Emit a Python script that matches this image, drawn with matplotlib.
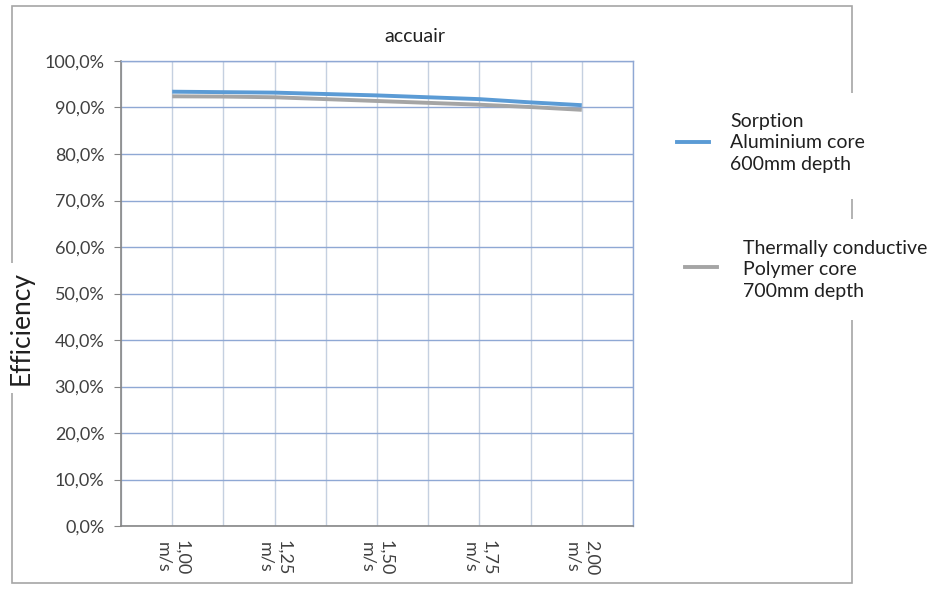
import numpy as np
import matplotlib
matplotlib.use("Agg")
import matplotlib.pyplot as plt
from matplotlib.ticker import FuncFormatter, MultipleLocator
from matplotlib.patches import Rectangle
from matplotlib.lines import Line2D

plt.rcParams['font.family'] = ['Lato', 'DejaVu Sans']

# dados
velocidades = [1.00, 1.125, 1.25, 1.375, 1.50, 1.625, 1.75, 1.875, 2.00]
rotulos_x = [1.00, 1.25, 1.50, 1.75, 2.00]
sorption = [93.4, 93.3, 93.2, 92.9, 92.6, 92.2, 91.8, 91.1, 90.5]
polymer = [92.4, 92.35, 92.2, 91.8, 91.4, 91.0, 90.6, 90.1, 89.5]

nome_sorption = "Sorption\nAluminium core\n600mm depth"
nome_polymer = "Thermally conductive\nPolymer core\n700mm depth"

azul = "#5B9BD5"
cinza = "#A5A5A5"

fig = plt.figure(figsize=(9.31, 6.04), dpi=100)
ax = fig.add_axes([121/931, 1 - 526/604, 512/931, 465/604])

ax.plot(velocidades, sorption, color=azul, lw=2.8, solid_capstyle='butt')
ax.plot(velocidades, polymer, color=cinza, lw=2.8, solid_capstyle='butt')

ax.set_xlim(0.875, 2.125)
ax.set_ylim(0, 100)
ax.xaxis.set_major_locator(MultipleLocator(0.125))
ax.yaxis.set_major_locator(MultipleLocator(10))
ax.grid(axis='x', color='#C5D0E0', lw=1.0)
ax.grid(axis='y', color='#8FA8D4', lw=1.0)
ax.set_axisbelow(True)

ax.yaxis.set_major_formatter(FuncFormatter(lambda v, p: ("%.1f%%" % v).replace('.', ',')))
ax.tick_params(axis='y', labelsize=13, colors='#404040', length=5, color='#868686', pad=7)
ax.tick_params(axis='x', length=0, labelbottom=False)

# rotulos do eixo x, rodados
for v in rotulos_x:
    ax.text(v, -3.0, ("%.2f" % v).replace('.', ',') + "\nm/s", rotation=-90,
            ha='center', va='top', fontsize=13, color='#404040',
            linespacing=1.2, clip_on=False)

for lado in ['left', 'bottom']:
    ax.spines[lado].set_color('#868686')
    ax.spines[lado].set_linewidth(1.2)
for lado in ['top', 'right']:
    ax.spines[lado].set_color('#8FA8D4')
    ax.spines[lado].set_linewidth(1.0)

fig.text(415/931, 1 - 36/604, "accuair", fontsize=14, color='#202020',
         ha='center', va='center')
fig.text(21/931, 1 - 328/604, "Efficiency", rotation=90, fontsize=19,
         ha='center', va='center', color='#202020', zorder=5,
         bbox=dict(facecolor='white', edgecolor='none', pad=6))

# moldura externa
fig.patches.append(Rectangle((12/931, 1 - 583/604), 840/931, 577/604,
                             transform=fig.transFigure, fill=False,
                             edgecolor='#A6A6A6', lw=1.2))
# caixas brancas da legenda por cima da moldura
for y0, y1 in [(93, 199), (219, 320)]:
    fig.patches.append(Rectangle((690/931, 1 - y1/604), 240/931, (y1 - y0)/604,
                                 transform=fig.transFigure, facecolor='white',
                                 edgecolor='none', zorder=3))

# legenda
fig.lines.append(Line2D([677/931, 709/931], [1 - 142/604] * 2, color=azul, lw=2.8,
                        transform=fig.transFigure, zorder=4))
fig.text(730/931, 1 - 143/604, nome_sorption, fontsize=14, va='center', ha='left',
         linespacing=1.3, color='#202020', zorder=5)
fig.lines.append(Line2D([685/931, 717/931], [1 - 267/604] * 2, color=cinza, lw=2.8,
                        transform=fig.transFigure, zorder=4))
fig.text(743/931, 1 - 270/604, nome_polymer, fontsize=14, va='center', ha='left',
         linespacing=1.3, color='#202020', zorder=5)

fig.savefig("out.png", dpi=100)
